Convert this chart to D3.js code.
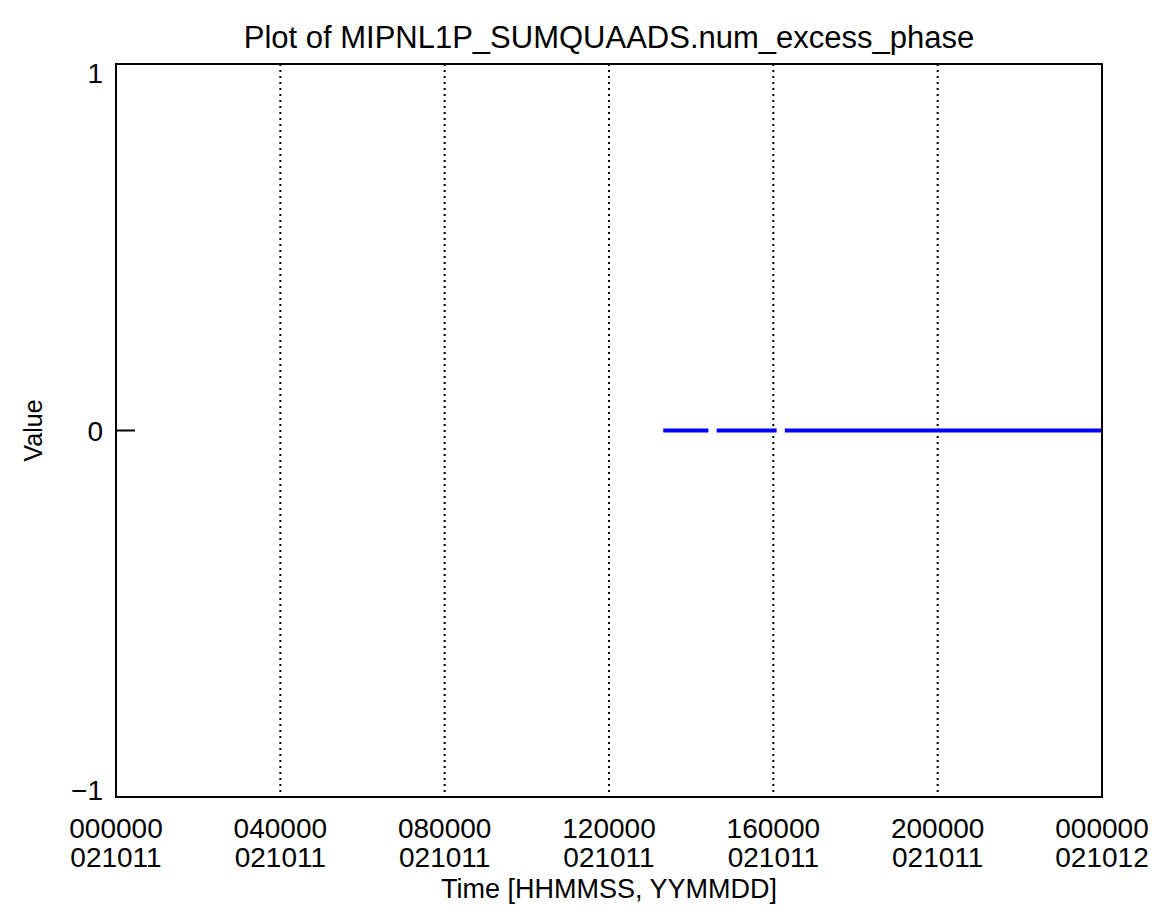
<!DOCTYPE html>
<html>
<head>
<meta charset="utf-8">
<script src="https://cdn.jsdelivr.net/npm/d3@7"></script>
<style>
  html, body { margin: 0; padding: 0; background: #fff; }
  svg text { font-family: "Liberation Sans", "DejaVu Sans", sans-serif; fill: #000; }
</style>
</head>
<body>
<svg id="chart" width="1160" height="922"></svg>
<script>
// Time axis is measured in hours from 000000 on 021011
const tickHours = [0, 4, 8, 12, 16, 20, 24];
const tickTimeLabels = ["000000", "040000", "080000", "120000", "160000", "200000", "000000"];
const tickDateLabels = ["021011", "021011", "021011", "021011", "021011", "021011", "021012"];
const yTicks = [-1, 0, 1];
const yTickLabels = ["\u22121", "0", "1"];

// Recorded spans of num_excess_phase (start hour, end hour, value)
const segStart = [13.32, 14.62, 16.28];
const segEnd   = [14.42, 16.08, 24.0];
const segValue = [0, 0, 0];

const margin = { left: 116, right: 58, top: 64, bottom: 125 };
const W = 1160, H = 922;
const svg = d3.select("#chart");

const x = d3.scaleLinear().domain([0, 24]).range([margin.left, W - margin.right]);
const y = d3.scaleLinear().domain([-1, 1]).range([H - margin.bottom, margin.top]);

// Dotted vertical gridlines at interior ticks
svg.append("g").selectAll("line")
  .data(tickHours.slice(1, -1))
  .join("line")
  .attr("x1", d => x(d)).attr("x2", d => x(d))
  .attr("y1", y(1)).attr("y2", y(-1))
  .attr("stroke", "#000").attr("stroke-width", 2)
  .attr("stroke-dasharray", "2,4");

// Data spans
const line = d3.line().x(d => x(d[0])).y(d => y(d[1]));
svg.append("g").selectAll("path")
  .data(segStart.map((s, i) => [[s, segValue[i]], [segEnd[i], segValue[i]]]))
  .join("path")
  .attr("d", line)
  .attr("fill", "none")
  .attr("stroke", "#0000ff")
  .attr("stroke-width", 4);

// Plot frame
svg.append("rect")
  .attr("x", x(0)).attr("y", y(1))
  .attr("width", x(24) - x(0)).attr("height", y(-1) - y(1))
  .attr("fill", "none").attr("stroke", "#000").attr("stroke-width", 2);

// Y axis ticks and labels (end labels kept inside the axis span)
svg.append("g").selectAll("line")
  .data(yTicks)
  .join("line")
  .attr("x1", x(0)).attr("x2", x(0) + 19)
  .attr("y1", d => y(d)).attr("y2", d => y(d))
  .attr("stroke", "#000").attr("stroke-width", 2);

const labelHalf = 10;
svg.append("g").selectAll("text")
  .data(yTicks)
  .join("text")
  .attr("x", x(0) - 13)
  .attr("y", d => Math.min(Math.max(y(d), y(1) + labelHalf - 1), y(-1) - labelHalf + 3) + labelHalf)
  .attr("text-anchor", "end")
  .attr("font-size", 28)
  .text((d, i) => yTickLabels[i]);

// X axis labels (time over date)
const xl = svg.append("g").selectAll("g")
  .data(tickHours)
  .join("g")
  .attr("transform", d => `translate(${x(d)},0)`);
xl.append("text")
  .attr("y", 838).attr("text-anchor", "middle").attr("font-size", 28)
  .text((d, i) => tickTimeLabels[i]);
xl.append("text")
  .attr("y", 867).attr("text-anchor", "middle").attr("font-size", 28)
  .text((d, i) => tickDateLabels[i]);

// Axis titles
svg.append("text")
  .attr("x", (x(0) + x(24)) / 2).attr("y", 898)
  .attr("text-anchor", "middle").attr("font-size", 27)
  .text("Time [HHMMSS, YYMMDD]");

svg.append("text")
  .attr("transform", `translate(42,${y(0)}) rotate(-90)`)
  .attr("text-anchor", "middle").attr("font-size", 25)
  .text("Value");

svg.append("text")
  .attr("x", (x(0) + x(24)) / 2).attr("y", 48)
  .attr("text-anchor", "middle").attr("font-size", 31)
  .text("Plot of MIPNL1P_SUMQUAADS.num_excess_phase");
</script>
</body>
</html>
